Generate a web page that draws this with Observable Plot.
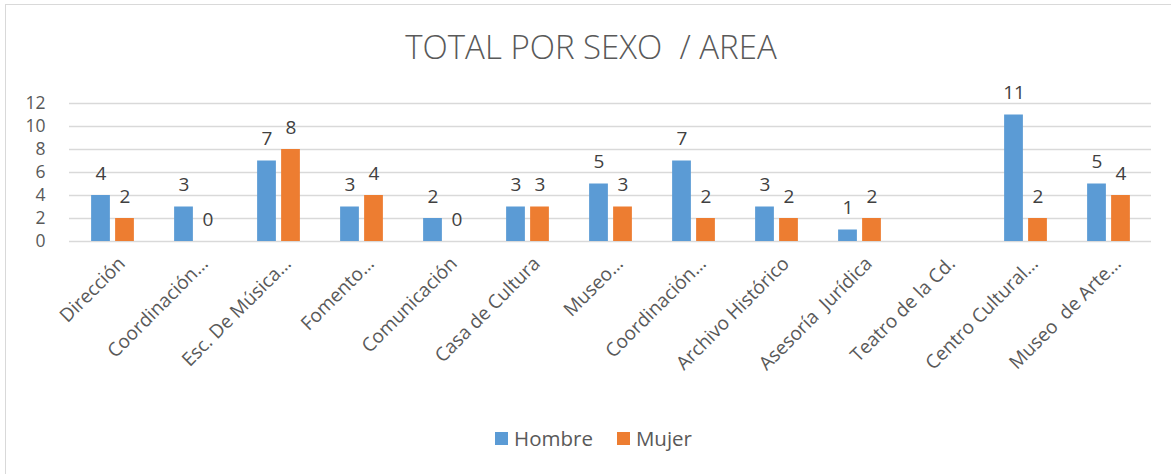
<!DOCTYPE html>
<html>
<head>
<meta charset="utf-8">
<script src="https://cdn.jsdelivr.net/npm/d3@7"></script>
<script src="https://cdn.jsdelivr.net/npm/@observablehq/plot@0.6"></script>
<style>
  html, body { margin: 0; padding: 0; background: #fff; overflow: hidden; }
  #wrap { position: relative; width: 1171px; height: 474px; overflow: hidden; font-family: "Open Sans", sans-serif; }
  #frame { position: absolute; left: 5px; top: 4px; width: 1172px; height: 490px; border: 1px solid #d9d9d9; box-sizing: border-box; }
  #title { position: absolute; left: 5px; width: 1172px; top: 30px; text-align: center; font-size: 33px; line-height: 33px; font-weight: 300; color: #595959; white-space: pre; }
  #legend { position: absolute; left: 8px; width: 1171px; top: 424px; display: flex; justify-content: center; font-size: 20.5px; color: #595959; }
  .item { display: flex; align-items: center; margin: 0 12px; }
  .sw { width: 13px; height: 13px; margin-right: 6px; }
  #chart svg { position: absolute; left: 0; top: 0; }
</style>
</head>
<body>
<div id="wrap">
  <div id="frame"></div>
  <div id="title"></div>
  <div id="chart"></div>
  <div id="legend"></div>
</div>
<script>
const titleText = "TOTAL POR SEXO  / AREA";
const areas = ["Dirección", "Coordinación…", "Esc. De Música…", "Fomento…", "Comunicación", "Casa de Cultura", "Museo…", "Coordinación…", "Archivo Histórico", "Asesoría  Jurídica", "Teatro de la Cd.", "Centro Cultural…", "Museo  de Arte…"];
const hombre = [4, 3, 7, 3, 2, 3, 5, 7, 3, 1, null, 11, 5];
const mujer  = [2, 0, 8, 4, 0, 3, 3, 2, 2, 2, null, 2, 4];
const series = ["Hombre", "Mujer"];
const colors = ["#5B9BD5", "#ED7D31"];
const yTicks = [0, 2, 4, 6, 8, 10, 12];

const values = [hombre, mujer];
const W = 1171, ML = 69, MR = 20;
const band = (W - ML - MR) / areas.length;
const barW = 19, gap = 5;
const outer = band / 2 - gap / 2 - barW;
const inner = band / 2 + gap / 2;
const shift = (barW + gap) / 2;

document.getElementById("title").textContent = titleText;

const seriesMarks = values.flatMap((vals, k) => {
  const rows = areas.map((a, i) => ({i, sexo: series[k], v: vals[i]})).filter(d => d.v != null);
  return [
    Plot.barY(rows, {x: "i", y: "v", fill: colors[k],
      insetLeft: k === 0 ? outer : inner, insetRight: k === 0 ? inner : outer}),
    Plot.text(rows, {x: "i", y: "v", text: "v", dx: k === 0 ? -shift : shift, dy: -16,
      lineAnchor: "bottom", fontSize: 19, fill: "#404040"})
  ];
});

const chart = Plot.plot({
  width: W,
  height: 474,
  marginTop: 103,
  marginBottom: 233,
  marginLeft: ML,
  marginRight: MR,
  style: {fontFamily: "Open Sans, sans-serif", color: "#595959", background: "transparent"},
  x: {domain: d3.range(areas.length), padding: 0, label: null},
  y: {domain: [0, 12], label: null},
  marks: [
    Plot.gridY(yTicks, {stroke: "#d9d9d9", strokeOpacity: 1, strokeWidth: 1.5}),
    Plot.axisY(yTicks, {tickSize: 0, tickPadding: 24, fontSize: 17.5, label: null, fill: "#595959"}),
    Plot.axisX({tickRotate: -45, tickSize: 0, tickPadding: 19, dx: 9, fontSize: 19, label: null,
      fill: "#595959", tickFormat: i => areas[i]}),
    ...seriesMarks
  ]
});
document.getElementById("chart").appendChild(chart);

const legend = document.getElementById("legend");
series.forEach((s, k) => {
  const it = document.createElement("div");
  it.className = "item";
  const sw = document.createElement("span");
  sw.className = "sw";
  sw.style.background = colors[k];
  const t = document.createElement("span");
  t.textContent = s;
  it.appendChild(sw); it.appendChild(t);
  legend.appendChild(it);
});
</script>
</body>
</html>
